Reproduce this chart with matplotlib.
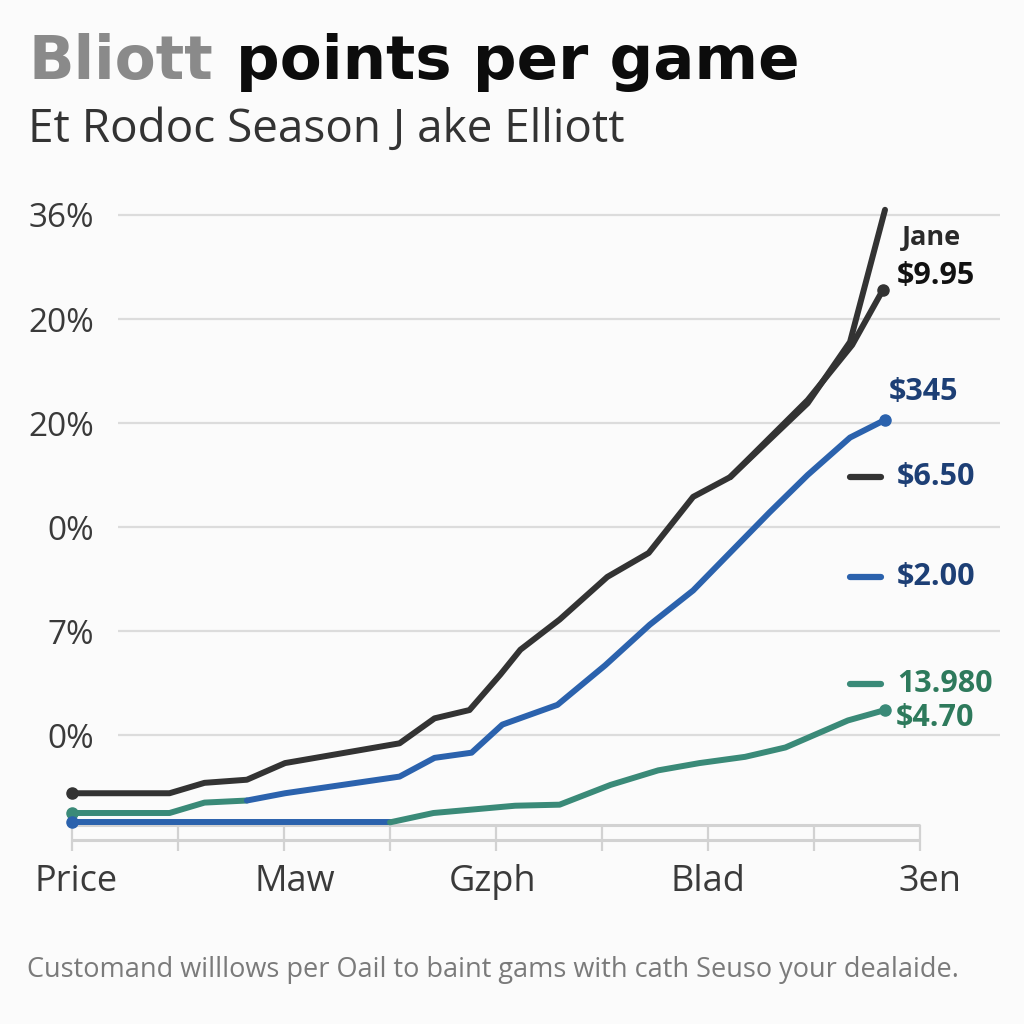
import matplotlib.pyplot as plt
from matplotlib.lines import Line2D

# x in tick units (ticks 0..8), y in grid units (gridlines 0..5)
top_x = [0, 0.92, 1.25, 1.65, 2.01, 3.09, 3.42, 3.75, 4.04, 4.23, 4.6, 5.05, 5.44, 5.86, 6.21, 6.58, 6.94, 7.34, 7.67]
top_y = [-0.56, -0.56, -0.46, -0.43, -0.27, -0.08, 0.16, 0.24, 0.58, 0.82, 1.11, 1.52, 1.75, 2.29, 2.48, 2.84, 3.19, 3.78, 5.05]
branch_x = [6.21, 6.94, 7.36, 7.65]
branch_y = [2.48, 3.22, 3.75, 4.28]

mid_x = [0, 0.92, 1.25, 1.65, 2.01, 3.09, 3.42, 3.77, 4.06, 4.58, 5.03, 5.45, 5.86, 6.58, 6.94, 7.34, 7.67]
mid_y = [-0.75, -0.75, -0.65, -0.63, -0.56, -0.40, -0.22, -0.17, 0.10, 0.29, 0.67, 1.06, 1.39, 2.14, 2.50, 2.86, 3.03]
mid_switch = 3   # green up to this point, blue after

low_x = [0, 3.0, 3.41, 4.18, 4.6, 5.08, 5.53, 5.92, 6.35, 6.73, 7.32, 7.67]
low_y = [-0.84, -0.84, -0.75, -0.68, -0.67, -0.48, -0.34, -0.27, -0.21, -0.12, 0.14, 0.24]
low_switch = 1   # blue up to this point, green after

y_levels = [5, 4, 3, 2, 1, 0]
y_labels = ['36%', '20%', '20%', '0%', '7%', '0%']
x_ticks = list(range(9))
x_label_pos = [0.04, 2.1, 3.97, 6.0, 8.09]
x_labels = ['Price', 'Maw', 'Gzph', 'Blad', '3en']

DARK = '#333333'
BLUE = '#2b62ad'
GREEN = '#3a8a78'
NAVY = '#1d3f75'
GTEXT = '#2e7a5c'

W = 1024
fig = plt.figure(figsize=(10.24, 10.24), dpi=100, facecolor='#fbfbfb')


def px(x, y):
    return x / W, 1 - y / W


# axes from px 118..1000 horizontally, 190..834 vertically
ax = fig.add_axes([118 / W, 1 - 834 / W, (1000 - 118) / W, (834 - 190) / W])
ax.set_facecolor('none')
ax.set_xlim((118 - 72) / 106, (1000 - 72) / 106)
ax.set_ylim((735 - 834) / 104, (735 - 190) / 104)
for s in ax.spines.values():
    s.set_visible(False)

ax.set_yticks(y_levels, y_labels)
ax.tick_params(axis='y', length=0, pad=17, labelsize=24, labelcolor='#3a3a3a')
ax.set_xticks([])
for lab in ax.get_yticklabels():
    lab.set_fontfamily('Open Sans')
ax.grid(axis='y', color='#dcdcdc', lw=1.6)
ax.set_axisbelow(True)

# bottom axis lines and ticks
ax.hlines([-0.865, -1.01], 0, 8, color='#d2d2d2', lw=2.2, clip_on=False, zorder=1)
ax.vlines(x_ticks, -1.12, -0.865, color='#d2d2d2', lw=1.6, clip_on=False, zorder=1)
for xp, lab in zip(x_label_pos, x_labels):
    ax.text(xp, -1.41, lab, ha='center', va='center', fontsize=26,
            color='#3a3a3a', family='Open Sans')

lw = 4.3
kw = dict(lw=lw, solid_capstyle='round', solid_joinstyle='round', clip_on=False)
ax.plot(low_x[:low_switch + 1], low_y[:low_switch + 1], color=BLUE, zorder=3, **kw)
ax.plot(low_x[low_switch:], low_y[low_switch:], color=GREEN, zorder=3, **kw)
ax.plot(mid_x[:mid_switch + 1], mid_y[:mid_switch + 1], color=GREEN, zorder=3, **kw)
ax.plot(mid_x[mid_switch:], mid_y[mid_switch:], color=BLUE, zorder=3, **kw)
ax.plot(top_x, top_y, color=DARK, zorder=4, **kw)
ax.plot(branch_x, branch_y, color=DARK, zorder=4, **kw)

mk = dict(marker='o', ms=8, clip_on=False, zorder=5, ls='none')
ax.plot(top_x[0], top_y[0], color=DARK, **mk)
ax.plot(mid_x[0], mid_y[0], color=GREEN, **mk)
ax.plot(low_x[0], low_y[0], color=BLUE, **mk)
ax.plot(branch_x[-1], branch_y[-1], color=DARK, **mk)
ax.plot(mid_x[-1], mid_y[-1], color=BLUE, **mk)
ax.plot(low_x[-1], low_y[-1], color=GREEN, **mk)

# end labels
lab_kw = dict(fontsize=22, fontweight='bold', family='Open Sans', va='center')
fig.text(*px(902, 238), 'Jane', color='#2a2a2a', fontsize=19.5, fontweight='bold',
         family='Open Sans', va='center')
fig.text(*px(897, 276), '$9.95', color='#111111', **lab_kw)
fig.text(*px(889, 392), '$345', color=NAVY, **lab_kw)
fig.text(*px(897, 477), '$6.50', color=NAVY, **lab_kw)
fig.text(*px(897, 577), '$2.00', color=NAVY, **lab_kw)
fig.text(*px(897, 684), '13.980', color=GTEXT, **lab_kw)
fig.text(*px(896, 718), '$4.70', color=GTEXT, **lab_kw)
for yk, c in [(477, DARK), (577, BLUE), (684, GREEN)]:
    x0, y0 = px(850, yk)
    x1, _ = px(881, yk)
    fig.add_artist(Line2D([x0, x1], [y0, y0], color=c, lw=4.5, solid_capstyle='round'))

# titles
fig.text(*px(29, 63), 'Bliott', color='#8a8a8a', fontsize=43, fontweight='bold',
         family='DejaVu Sans', va='center')
fig.text(*px(236, 63), 'points per game', color='#0c0c0c', fontsize=44,
         fontweight='bold', family='DejaVu Sans', va='center')
fig.text(*px(28, 130), 'Et Rodoc Season J ake Elliott', color='#333333', fontsize=33,
         family='Open Sans', va='center')
fig.text(*px(27, 970), 'Customand willlows per Oail to baint gams with cath Seuso your dealaide.',
         color='#7a7a7a', fontsize=19.5, family='Open Sans', va='center')

fig.savefig('out.png', dpi=100, facecolor=fig.get_facecolor())
